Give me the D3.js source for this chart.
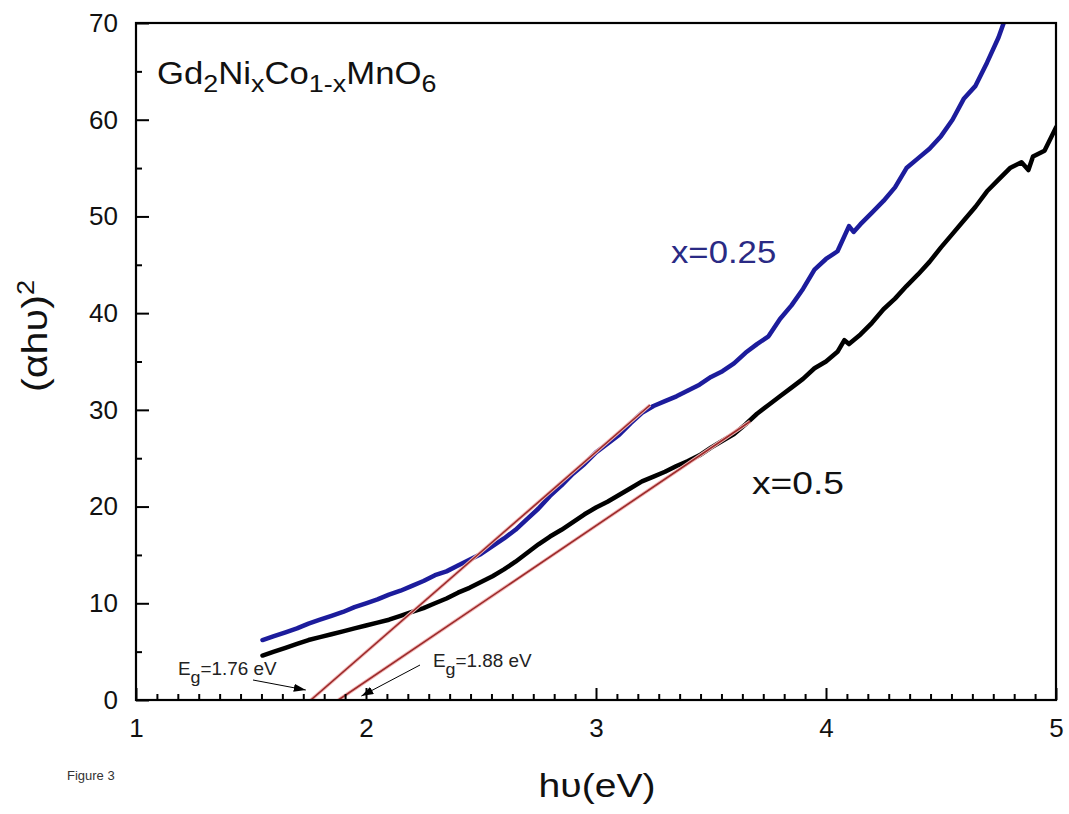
<!DOCTYPE html>
<html>
<head>
<meta charset="utf-8">
<script src="https://cdn.jsdelivr.net/npm/d3@7"></script>
<style>
  body { margin: 0; background: #fff; }
  svg { display: block; }
  text { font-family: Arial, "Liberation Sans", sans-serif; }
</style>
</head>
<body>
<svg id="chart" width="1069" height="814"></svg>
<script>
// ---- data ----
const hvBlue = [1.55,1.60,1.65,1.70,1.75,1.80,1.85,1.90,1.95,2.00,2.05,2.10,2.15,2.20,2.25,2.30,2.35,2.40,2.45,2.50,2.55,2.60,2.65,2.70,2.75,2.80,2.85,2.90,2.95,3.00,3.05,3.10,3.15,3.20,3.25,3.30,3.35,3.40,3.45,3.50,3.55,3.60,3.65,3.70,3.75,3.80,3.85,3.90,3.95,4.00,4.05,4.10,4.12,4.15,4.20,4.25,4.30,4.35,4.40,4.45,4.50,4.55,4.60,4.65,4.70,4.75,4.78];
const valBlue = [6.2,6.6,7.0,7.4,7.9,8.3,8.7,9.1,9.6,10.0,10.4,10.9,11.3,11.8,12.3,12.9,13.3,13.9,14.5,15.1,15.9,16.7,17.6,18.7,19.8,21.1,22.2,23.4,24.4,25.6,26.5,27.4,28.6,29.7,30.4,30.9,31.4,32.0,32.6,33.4,34.0,34.8,35.9,36.8,37.6,39.4,40.8,42.5,44.5,45.6,46.4,49.0,48.4,49.2,50.4,51.6,53.0,55.0,56.0,57.0,58.3,60.0,62.2,63.5,65.9,68.5,70.5];

const hvBlack = [1.55,1.60,1.65,1.70,1.75,1.80,1.85,1.90,1.95,2.00,2.05,2.10,2.15,2.20,2.25,2.30,2.35,2.40,2.45,2.50,2.55,2.60,2.65,2.70,2.75,2.80,2.85,2.90,2.95,3.00,3.05,3.10,3.15,3.20,3.25,3.30,3.35,3.40,3.45,3.50,3.55,3.60,3.65,3.70,3.75,3.80,3.85,3.90,3.95,4.00,4.05,4.08,4.10,4.15,4.20,4.25,4.30,4.35,4.40,4.45,4.50,4.55,4.60,4.65,4.70,4.75,4.80,4.85,4.88,4.90,4.95,5.00];
const valBlack = [4.6,5.0,5.4,5.8,6.2,6.5,6.8,7.1,7.4,7.7,8.0,8.3,8.7,9.1,9.5,10.0,10.5,11.1,11.6,12.2,12.8,13.5,14.3,15.2,16.1,16.9,17.6,18.4,19.2,19.9,20.5,21.2,21.9,22.6,23.1,23.6,24.2,24.7,25.3,26.1,26.8,27.5,28.5,29.6,30.5,31.4,32.3,33.2,34.3,35.0,36.0,37.2,36.8,37.8,39.0,40.4,41.5,42.8,44.0,45.3,46.8,48.2,49.6,51.0,52.6,53.8,55.0,55.6,54.8,56.2,56.8,59.2];

// linear fits (Tauc extrapolation), endpoints [hv, value]
const fitBlue = [[1.76, 0], [3.235, 30.5]];
const fitBlack = [[1.88, 0], [3.67, 28.8]];

const xTicks = [1, 2, 3, 4, 5];
const yTicks = [0, 10, 20, 30, 40, 50, 60, 70];
const yMinorTicks = [5, 15, 25, 35, 45, 55, 65];
const seriesLabels = ["x=0.25", "x=0.5"];
const egLabels = ["1.76 eV", "1.88 eV"];

// ---- layout ----
const svg = d3.select("#chart");
const mLeft = 136, mRight = 1056, mTop = 23, mBottom = 700;
const x = d3.scaleLinear().domain([1, 5]).range([mLeft, mRight]);
const y = d3.scaleLinear().domain([0, 70]).range([mBottom, mTop]);

// minor x ticks (10 between majors, as drawn in the reference)
const xMinor = [];
for (let k = 1; k < 5; k++) for (let i = 1; i <= 10; i++) xMinor.push(k + i / 11);

// curves
const line = d3.line().x(d => x(d[0])).y(d => y(d[1]));
svg.append("clipPath").attr("id", "clip")
  .append("rect").attr("x", mLeft).attr("y", mTop).attr("width", mRight - mLeft).attr("height", mBottom - mTop);
const plot = svg.append("g").attr("clip-path", "url(#clip)");

plot.append("path").datum(hvBlack.map((h, i) => [h, valBlack[i]]))
  .attr("d", line).attr("fill", "none").attr("stroke", "#000")
  .attr("stroke-width", 4.5).attr("stroke-linejoin", "round").attr("stroke-linecap", "round");
plot.append("path").datum(hvBlue.map((h, i) => [h, valBlue[i]]))
  .attr("d", line).attr("fill", "none").attr("stroke", "#1c1c9c")
  .attr("stroke-width", 4.5).attr("stroke-linejoin", "round").attr("stroke-linecap", "round");

[fitBlue, fitBlack].forEach(f => {
  plot.append("path").datum(f).attr("d", line).attr("fill", "none")
    .attr("stroke", "#f2b8b8").attr("stroke-width", 3.5);
  plot.append("path").datum(f).attr("d", line).attr("fill", "none")
    .attr("stroke", "#9b2a2a").attr("stroke-width", 1.6);
});

// axes
const fs = "26px";
const gx = svg.append("g").attr("transform", `translate(0,${mBottom})`)
  .call(d3.axisBottom(x).tickValues(xTicks).tickFormat(d3.format("d")).tickSize(-12).tickPadding(19));
gx.select(".domain").remove();
gx.selectAll("text").attr("font-size", fs).attr("fill", "#111").attr("font-family", "Arial, 'Liberation Sans', sans-serif");
gx.selectAll("line").attr("stroke", "#000").attr("stroke-width", 2);

const gxm = svg.append("g").attr("transform", `translate(0,${mBottom})`)
  .call(d3.axisBottom(x).tickValues(xMinor).tickFormat("").tickSize(-6));
gxm.select(".domain").remove();
gxm.selectAll("line").attr("stroke", "#000").attr("stroke-width", 2);

const gy = svg.append("g").attr("transform", `translate(${mLeft},0)`)
  .call(d3.axisLeft(y).tickValues(yTicks).tickFormat(d3.format("d")).tickSize(-13).tickPadding(18));
gy.select(".domain").remove();
gy.selectAll("text").attr("font-size", fs).attr("fill", "#111").attr("font-family", "Arial, 'Liberation Sans', sans-serif");
gy.selectAll("line").attr("stroke", "#000").attr("stroke-width", 2);

const gym = svg.append("g").attr("transform", `translate(${mLeft},0)`)
  .call(d3.axisLeft(y).tickValues(yMinorTicks).tickFormat("").tickSize(-6));
gym.select(".domain").remove();
gym.selectAll("line").attr("stroke", "#000").attr("stroke-width", 2);

// frame
svg.append("rect").attr("x", mLeft).attr("y", mTop).attr("width", mRight - mLeft).attr("height", mBottom - mTop)
  .attr("fill", "none").attr("stroke", "#000").attr("stroke-width", 2.2);

// axis titles
svg.append("text").attr("transform", "translate(597,797) scale(1.15,1)").attr("text-anchor", "middle")
  .attr("font-size", "34px").attr("fill", "#111").text("hυ(eV)");

const yl = svg.append("text").attr("transform", "translate(47,336) rotate(-90) scale(1.18,1)")
  .attr("text-anchor", "middle").attr("font-size", "35px").attr("fill", "#111");
yl.append("tspan").text("(αhυ)");
yl.append("tspan").attr("font-size", "23px").attr("dy", "-13").text("2");

// compound formula
const t = svg.append("text").attr("transform", "translate(157,84) scale(1.12,1)")
  .attr("font-size", "31px").attr("fill", "#111");
const parts = [["Gd", 0], ["2", 1], ["Ni", 0], ["x", 1], ["Co", 0], ["1-x", 1], ["MnO", 0], ["6", 1]];
let prevSub = false;
parts.forEach(([s, sub]) => {
  const sp = t.append("tspan").text(s);
  if (sub) { sp.attr("font-size", "24px").attr("dy", prevSub ? 0 : 8); }
  else if (prevSub) { sp.attr("dy", -8); }
  prevSub = !!sub;
});

// series labels
svg.append("text").attr("transform", "translate(671,263) scale(1.12,1)").attr("font-size", "31px").attr("fill", "#2a2a84").text(seriesLabels[0]);
svg.append("text").attr("transform", "translate(752,494) scale(1.2,1)").attr("font-size", "31px").attr("fill", "#111").text(seriesLabels[1]);

// Eg annotations
svg.append("defs").append("marker").attr("id", "arr").attr("viewBox", "0 0 12 8")
  .attr("refX", 12).attr("refY", 4).attr("markerWidth", 12).attr("markerHeight", 8)
  .attr("markerUnits", "userSpaceOnUse").attr("orient", "auto")
  .append("path").attr("d", "M0,0 L12,4 L0,8 Z").attr("fill", "#000");

function egLabel(px, py, val) {
  const tt = svg.append("text").attr("transform", `translate(${px},${py}) scale(1.05,1)`)
    .attr("font-size", "18px").attr("fill", "#222");
  tt.append("tspan").text("E");
  tt.append("tspan").attr("font-size", "17px").attr("dy", 8).text("g");
  tt.append("tspan").attr("dy", -8).text("=" + val);
}
egLabel(178, 675, egLabels[0]);
egLabel(433, 667, egLabels[1]);

svg.append("line").attr("x1", 253).attr("y1", 680).attr("x2", x(1.76) - 5).attr("y2", 690)
  .attr("stroke", "#000").attr("stroke-width", 1).attr("marker-end", "url(#arr)");
svg.append("line").attr("x1", 420).attr("y1", 665).attr("x2", x(1.98)).attr("y2", 696)
  .attr("stroke", "#000").attr("stroke-width", 1).attr("marker-end", "url(#arr)");

svg.append("text").attr("x", 67).attr("y", 780).attr("font-size", "13px").attr("fill", "#333").text("Figure 3");
</script>
</body>
</html>
